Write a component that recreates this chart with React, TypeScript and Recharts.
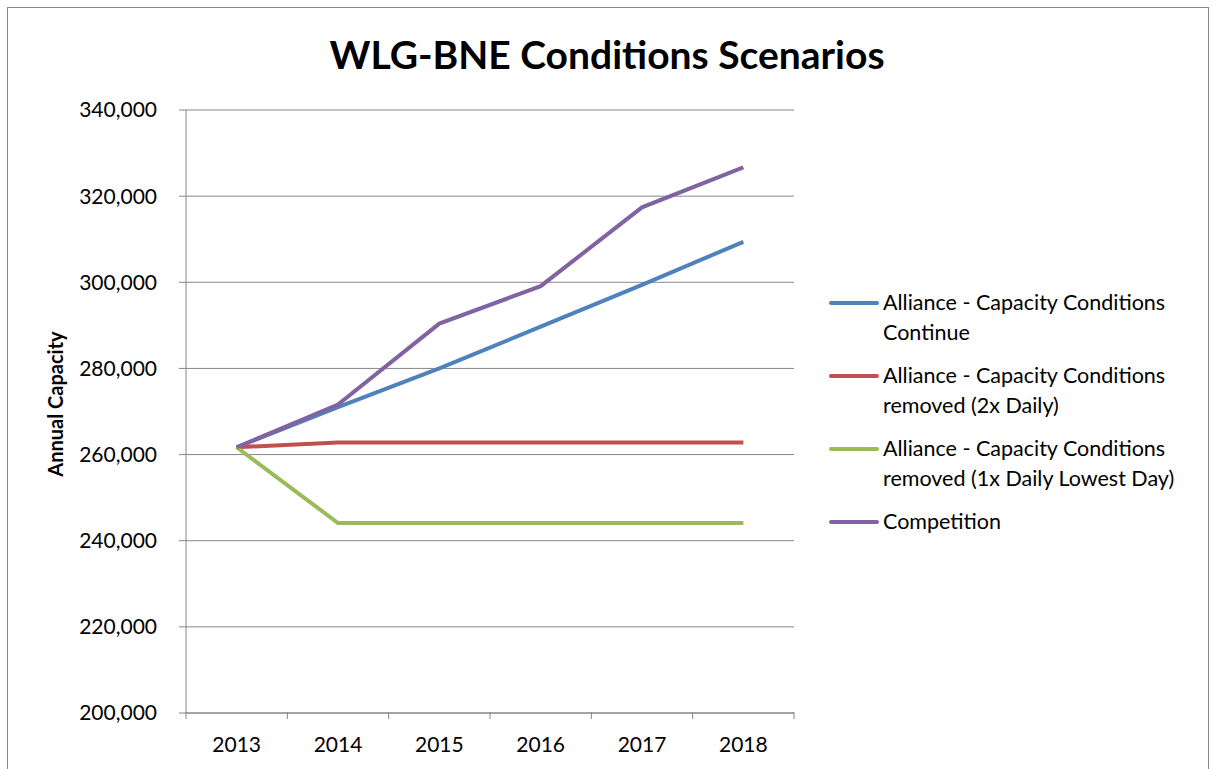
import { CartesianGrid, Line, LineChart, XAxis, YAxis } from "recharts";

const years = ["2013", "2014", "2015", "2016", "2017", "2018"];
const continueCap = [261700, 271000, 280000, 289700, 299400, 309400];
const removed2x = [261700, 262800, 262800, 262800, 262800, 262800];
const removed1x = [261700, 244100, 244100, 244100, 244100, 244100];
const competition = [261700, 271600, 290400, 299100, 317400, 326700];
const yTicks = [200000, 220000, 240000, 260000, 280000, 300000, 320000, 340000];

const seriesNames = [
  "Alliance - Capacity Conditions Continue",
  "Alliance - Capacity Conditions removed (2x Daily)",
  "Alliance - Capacity Conditions removed (1x Daily Lowest Day)",
  "Competition",
];
const seriesColors = ["#4F81BD", "#C0504D", "#9BBB59", "#8064A2"];

const data = years.map((year, i) => ({
  year,
  s0: continueCap[i],
  s1: removed2x[i],
  s2: removed1x[i],
  s3: competition[i],
}));

const FONT = "Lato, 'Open Sans', sans-serif";
const AXIS = "#868686";
const BAND = 608 / years.length;

function YearTick(props: any) {
  const { x, y, payload, index } = props;
  const top = y - 16 - 7;
  return (
    <g>
      <line x1={x - BAND / 2} x2={x - BAND / 2} y1={top} y2={top + 7} stroke={AXIS} />
      {index === years.length - 1 && (
        <line x1={x + BAND / 2} x2={x + BAND / 2} y1={top} y2={top + 7} stroke={AXIS} />
      )}
      <text x={x} y={top + 40} textAnchor="middle" fill="#000" fontSize={21} fontFamily={FONT}>
        {payload.value}
      </text>
    </g>
  );
}

function SeriesLegend() {
  return (
    <div style={{ position: "absolute", left: 829, top: 287, fontFamily: FONT, fontSize: 21.5, color: "#000" }}>
      {seriesNames.map((name, i) => (
        <div key={name} style={{ display: "flex", alignItems: "flex-start", marginBottom: 13 }}>
          <div
            style={{
              width: 50,
              height: 4,
              borderRadius: 2,
              background: seriesColors[i],
              marginTop: 14,
              marginRight: 4,
              flex: "none",
            }}
          />
          <div style={{ width: 320, lineHeight: "30px", marginTop: 0 }}>{name}</div>
        </div>
      ))}
    </div>
  );
}

export default function App() {
  return (
    <div style={{ position: "absolute", left: 0, top: 0, width: 1214, height: 769, background: "#fff", overflow: "hidden" }}>
      <div
        style={{
          position: "absolute",
          left: 7,
          top: 7,
          width: 1200,
          height: 800,
          border: "1px solid #8a8a8a",
        }}
      />
      <div
        style={{
          position: "absolute",
          left: 0,
          width: 1214,
          top: 29,
          textAlign: "center",
          fontFamily: FONT,
          fontWeight: 700,
          fontSize: 39,
          color: "#000",
          lineHeight: "50px",
        }}
      >
        WLG-BNE Conditions Scenarios
      </div>
      <div
        style={{
          position: "absolute",
          left: 55,
          top: 404,
          transform: "translate(-50%, -50%) rotate(-90deg)",
          fontFamily: FONT,
          fontWeight: 700,
          fontSize: 20,
          color: "#000",
          whiteSpace: "nowrap",
        }}
      >
        Annual Capacity
      </div>
      <div style={{ position: "absolute", left: 0, top: 0 }}>
        <LineChart width={1214} height={769} data={data} margin={{ top: 110, right: 420, bottom: 26, left: 0 }}>
          <CartesianGrid vertical={false} stroke={AXIS} strokeWidth={1} />
          <XAxis
            dataKey="year"
            scale="band"
            stroke={AXIS}
            tickLine={false}
            height={30}
            tick={<YearTick />}
            tickMargin={16}
            interval={0}
          />
          <YAxis
            width={186}
            domain={[200000, 340000]}
            ticks={yTicks}
            stroke={AXIS}
            tickSize={7}
            tickMargin={22}
            tickFormatter={(v: number) => v.toLocaleString("en-US")}
            tick={{ fill: "#000", fontSize: 21, fontFamily: FONT }}
          />
          {seriesNames.map((name, i) => (
            <Line
              key={name}
              type="linear"
              dataKey={`s${i}`}
              name={name}
              stroke={seriesColors[i]}
              strokeWidth={4}
              dot={false}
              activeDot={false}
              isAnimationActive={false}
            />
          ))}
        </LineChart>
      </div>
      <SeriesLegend />
    </div>
  );
}
